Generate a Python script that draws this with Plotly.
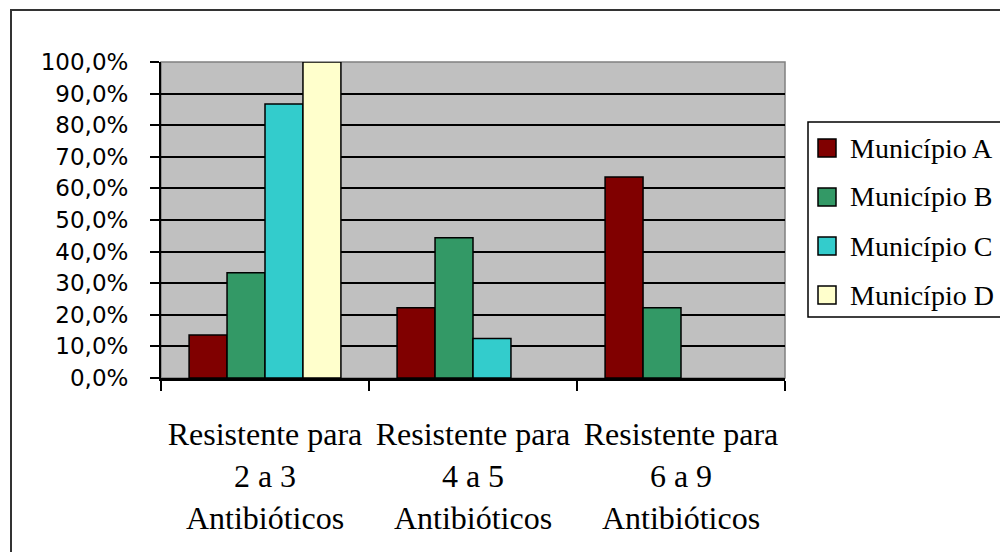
import plotly.graph_objects as go

categories = ["Resistente para<br>2 a 3<br>Antibióticos",
              "Resistente para<br>4 a 5<br>Antibióticos",
              "Resistente para<br>6 a 9<br>Antibióticos"]
series_names = ["Município A", "Município B", "Município C", "Município D"]
mun_a = [0.136, 0.222, 0.636]
mun_b = [0.333, 0.444, 0.222]
mun_c = [0.867, 0.125, None]
mun_d = [1.0, None, None]
colors = ["#800000", "#339966", "#33CCCC", "#FFFFCC"]
y_tickvals = [0, 0.1, 0.2, 0.3, 0.4, 0.5, 0.6, 0.7, 0.8, 0.9, 1.0]
y_ticktext = ["0,0%", "10,0%", "20,0%", "30,0%", "40,0%", "50,0%",
              "60,0%", "70,0%", "80,0%", "90,0%", "100,0%"]

fig = go.Figure()
for i, (name, vals) in enumerate(zip(series_names, [mun_a, mun_b, mun_c, mun_d])):
    fig.add_trace(go.Bar(
        x=categories, y=vals, name=name, showlegend=False,
        marker=dict(color=colors[i], line=dict(color="black", width=1.5)),
    ))

OFF = 8  # default page body margin
W, H = 1008 - 2 * OFF, 560 - 2 * OFF
# plot area in page pixels
L, R, T, B = 161, 785, 62, 378
def px(x):
    return (x - L) / (R - L)
def py(y):
    return (B - y) / (B - T)

shapes = [
    dict(type="rect", xref="paper", yref="paper", x0=0, x1=1, y0=0, y1=1,
         line=dict(color="#808080", width=1.5), layer="below"),
    dict(type="rect", xref="paper", yref="paper",
         x0=px(11), x1=px(1030), y0=py(590), y1=py(10),
         line=dict(color="#333333", width=2)),
    # legend box
    dict(type="rect", xref="paper", yref="paper",
         x0=px(808), x1=px(1030), y0=py(317), y1=py(122),
         line=dict(color="black", width=1.5), fillcolor="white"),
]
annotations = []
legend_y = [148, 197, 246, 295]
for name, col, yy in zip(series_names, colors, legend_y):
    shapes.append(dict(type="rect", xref="paper", yref="paper",
                       x0=px(818), x1=px(836), y0=py(yy + 9), y1=py(yy - 9),
                       line=dict(color="black", width=1.5), fillcolor=col))
    annotations.append(dict(xref="paper", yref="paper", x=px(848), y=py(yy),
                            xanchor="left", yanchor="middle", showarrow=False,
                            text=name,
                            font=dict(family="Liberation Serif", size=28, color="black")))

fig.update_layout(
    width=W, height=H,
    margin=dict(l=L - OFF, r=W - (R - OFF), t=T - OFF, b=H - (B - OFF), pad=0),
    paper_bgcolor="white",
    plot_bgcolor="#C0C0C0",
    barmode="group", bargap=0.27, bargroupgap=0,
    showlegend=False,
    xaxis=dict(
        type="category", showgrid=False,
        ticks="outside", tickson="boundaries", ticklen=10, tickwidth=2, tickcolor="black",
        showline=True, linecolor="black", linewidth=3,
        tickfont=dict(family="Liberation Serif", size=32, color="black"),
        ticklabelstandoff=26,
    ),
    yaxis=dict(
        range=[0, 1], tickvals=y_tickvals, ticktext=y_ticktext,
        showgrid=True, gridcolor="black", gridwidth=2,
        zeroline=False,
        ticks="outside", ticklen=9, tickwidth=2, tickcolor="black",
        showline=True, linecolor="black", linewidth=2,
        tickfont=dict(family="DejaVu Sans", size=23, color="black"),
        ticklabelstandoff=17,
    ),
    shapes=shapes,
    annotations=annotations,
)

fig.write_html("out.html")
